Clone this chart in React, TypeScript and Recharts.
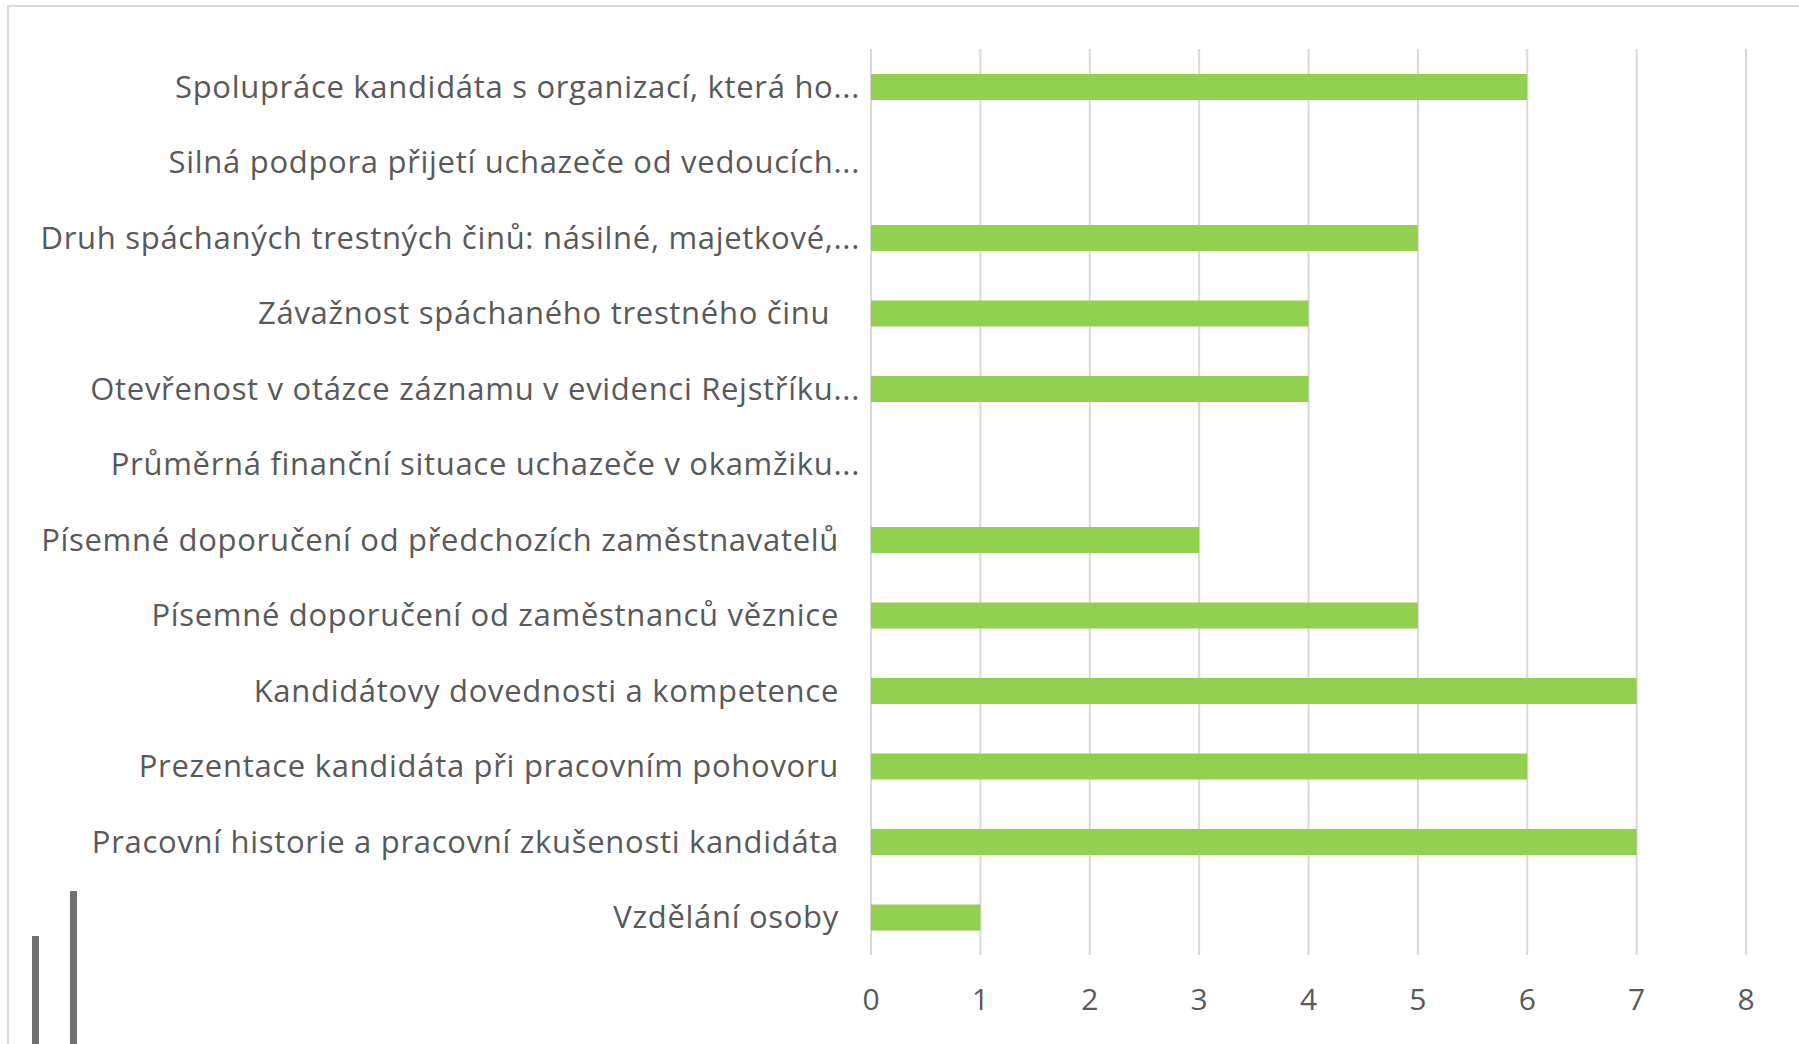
import React from "react";
import { BarChart, Bar, XAxis, YAxis, CartesianGrid } from "recharts";

const categories = [
  "Spolupráce kandidáta s organizací, která ho...",
  "Silná podpora přijetí uchazeče od vedoucích...",
  "Druh spáchaných trestných činů: násilné, majetkové,...",
  "Závažnost spáchaného trestného činu ",
  "Otevřenost v otázce záznamu v evidenci Rejstříku...",
  "Průměrná finanční situace uchazeče v okamžiku...",
  "Písemné doporučení od předchozích zaměstnavatelů",
  "Písemné doporučení od zaměstnanců věznice",
  "Kandidátovy dovednosti a kompetence",
  "Prezentace kandidáta při pracovním pohovoru",
  "Pracovní historie a pracovní zkušenosti kandidáta",
  "Vzdělání osoby",
];

const counts = [6, 0, 5, 4, 4, 0, 3, 5, 7, 6, 7, 1];

const xTicks = [0, 1, 2, 3, 4, 5, 6, 7, 8];

const rows = categories.map((name, i) => ({ name, value: counts[i] }));

const FONT = "'Open Sans', sans-serif";
const TEXT = "#595959";
const GRID = "#d9d9d9";
const BAR = "#92D050";

// Excel pushes the truncated labels a bit closer to the axis
const CategoryTick = ({ x, y, payload }: any) => {
  const cut = String(payload.value).endsWith("...");
  return (
    <text
      x={x - (cut ? 3 : 24)}
      y={y}
      dy="0.36em"
      textAnchor="end"
      fill={TEXT}
      fontSize={31}
      letterSpacing={0.7}
      fontFamily={FONT}
      style={{ whiteSpace: "pre" }}
    >
      {payload.value}
    </text>
  );
};

export default function App() {
  return (
    <div style={{ position: "fixed", left: 0, top: 0, width: 1799, height: 1044, background: "#fff", overflow: "hidden" }}>
      <div
        style={{
          position: "absolute",
          left: 7,
          top: 5,
          width: 2000,
          height: 2000,
          borderTop: `2px solid ${GRID}`,
          borderLeft: `2px solid ${GRID}`,
        }}
      />
      <div style={{ position: "absolute", left: 32, top: 936, width: 7, height: 200, background: "#707070" }} />
      <div style={{ position: "absolute", left: 70, top: 891, width: 7, height: 200, background: "#707070" }} />
      <div style={{ position: "absolute", left: 0, top: 0 }}>
        <BarChart
          width={1799}
          height={1044}
          data={rows}
          layout="vertical"
          margin={{ top: 49, right: 53, left: 0, bottom: 0 }}
        >
          <CartesianGrid horizontal={false} stroke={GRID} strokeWidth={2} />
          <XAxis
            type="number"
            domain={[0, 8]}
            ticks={xTicks}
            axisLine={false}
            tickLine={false}
            height={89}
            tickMargin={28}
            tick={{ fontSize: 30, fill: TEXT, fontFamily: FONT }}
          />
          <YAxis
            type="category"
            dataKey="name"
            width={871}
            axisLine={false}
            tickLine={false}
            interval={0}
            tick={<CategoryTick />}
          />
          <Bar dataKey="value" fill={BAR} barSize={26} isAnimationActive={false} />
        </BarChart>
      </div>
    </div>
  );
}
